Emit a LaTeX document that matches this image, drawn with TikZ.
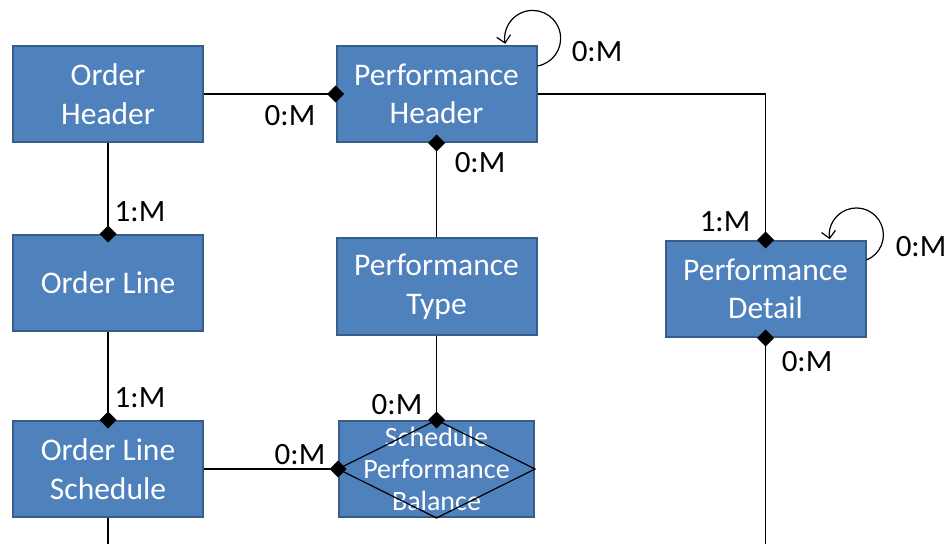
\documentclass[tikz,border=0pt]{standalone}
\usepackage{fontspec}
\setmainfont{Carlito}
\usetikzlibrary{arrows.meta}
\definecolor{boxblue}{HTML}{4F81BD}
\definecolor{boxedge}{HTML}{385D8A}
\begin{document}
\begin{tikzpicture}[x=1pt,y=1pt,
  entity/.style={draw=boxedge,line width=2pt,fill=boxblue,text=white,align=center,inner sep=0pt,
    minimum width=200pt,minimum height=96pt,font=\fontsize{31.5}{38.5}\selectfont},
  link/.style={line width=1.2pt},
  many/.style={link,-{Diamond[length=17pt,width=17pt]},shorten >=-8.5pt},
  selfloop/.style={link,-{Straight Barb[length=7pt,width=14pt]}},
  card/.style={font=\fontsize{31}{36}\selectfont,inner sep=0pt}]
      \useasboundingbox (0,0) rectangle (947,544);
      \node[entity,minimum width=190pt] (oh) at (108,450) {Order\\Header};
      \node[entity] (ph) at (436.5,450) {Performance\\Header};
      \node[entity,minimum width=190pt] (ol) at (108,261) {Order Line};
      \node[entity] (pt) at (436.5,257.5) {Performance\\Type};
      \node[entity] (pd) at (765.5,255) {Performance\\Detail};
      \node[entity,minimum width=190pt] (ols) at (108,75) {Order Line\\Schedule};
      \node[entity,minimum width=195pt,font=\fontsize{28}{32}\selectfont] (spb) at (436.5,75) {Schedule\\Performance\\Balance};
      \draw[link] (spb.west)--(spb.north)--(spb.east)--(spb.south)--cycle;
      \coordinate (olsout) at (108,0);
      \coordinate (pdout) at (765.5,0);
      \draw[many] (oh.east)--(ph.west);
      \draw[many] (oh.south)--(ol.north);
      \draw[many] (ol.south)--(ols.north);
      \draw[many] (pt.north)--(ph.south);
      \draw[many] (pt.south)--(spb.north);
      \draw[many] (ols.east)--(spb.west);
      \draw[many] (ph.east)-|(pd.north);
      \draw[many] (pdout)--(pd.south);
      \draw[link] (ols.south)--(olsout);
      \draw[selfloop] ([yshift=-21pt]ph.north east) arc[start angle=-80,end angle=191,radius=28pt];
      \draw[selfloop] ([yshift=-20pt]pd.north east) arc[start angle=-68,end angle=189,radius=27pt];
      \node[card] (ohph) at (290,428) {0:M};
      \node[card] (ohol) at (140,332) {1:M};
      \node[card] (olols) at (140,146) {1:M};
      \node[card] (olsspb) at (300,89) {0:M};
      \node[card] (phpt) at (480,381) {0:M};
      \node[card] (ptspb) at (397,139) {0:M};
      \node[card] (phloop) at (597,492) {0:M};
      \node[card] (phpd) at (725,322) {1:M};
      \node[card] (pdloop) at (921,297) {0:M};
      \node[card] (pdbelow) at (807,182) {0:M};
\end{tikzpicture}
\end{document}
